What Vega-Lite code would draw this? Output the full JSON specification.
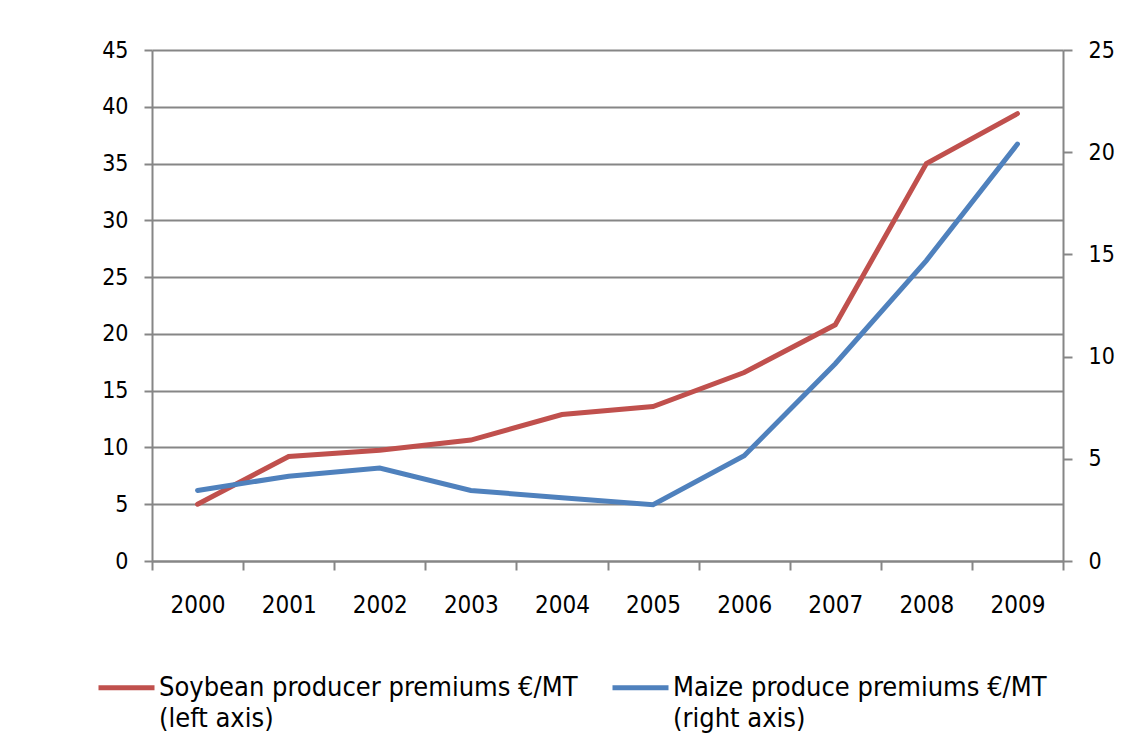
{
  "$schema": "https://vega.github.io/schema/vega-lite/v6.json",
  "width": 911,
  "height": 511,
  "autosize": {"type": "none"},
  "padding": {"left": 152, "top": 50, "right": 59, "bottom": 186},
  "background": "white",
  "data": {
    "values": [
      {"year": "2000", "soybean": 5.0, "maize": 3.45},
      {"year": "2001", "soybean": 9.2, "maize": 4.15},
      {"year": "2002", "soybean": 9.75, "maize": 4.55},
      {"year": "2003", "soybean": 10.65, "maize": 3.45},
      {"year": "2004", "soybean": 12.9, "maize": 3.1},
      {"year": "2005", "soybean": 13.6, "maize": 2.75},
      {"year": "2006", "soybean": 16.6, "maize": 5.15},
      {"year": "2007", "soybean": 20.8, "maize": 9.65},
      {"year": "2008", "soybean": 35.0, "maize": 14.7},
      {"year": "2009", "soybean": 39.4, "maize": 20.4}
    ]
  },
  "encoding": {
    "x": {
      "field": "year",
      "type": "ordinal",
      "bandPosition": 0.5,
      "scale": {"type": "band", "paddingInner": 0, "paddingOuter": 0},
      "axis": {
        "title": null,
        "labelAngle": 0,
        "tickBand": "extent",
        "tickSize": 9,
        "labelPadding": 35,
        "labelFontSize": 24,
        "labelBaseline": "middle"
      }
    }
  },
  "layer": [
    {
      "mark": {"type": "line", "strokeWidth": 5, "strokeJoin": "miter", "strokeCap": "round"},
      "encoding": {
        "y": {
          "field": "soybean",
          "type": "quantitative",
          "scale": {"domain": [0, 45], "nice": false},
          "axis": {
            "orient": "left",
            "title": null,
            "values": [0, 5, 10, 15, 20, 25, 30, 35, 40, 45],
            "grid": true,
            "tickSize": 8,
            "labelPadding": 16
          }
        },
        "color": {
          "datum": "Soybean producer premiums €/MT (left axis)",
          "type": "nominal",
          "scale": {
            "domain": ["Soybean producer premiums €/MT (left axis)", "Maize produce premiums €/MT (right axis)"],
            "range": ["#C0504D", "#4F81BD"]
          },
          "legend": {
            "title": null,
            "orient": "none",
            "direction": "horizontal",
            "legendX": -56,
            "legendY": 607,
            "padding": 0,
            "symbolType": "stroke",
            "symbolSize": 3136,
            "symbolStrokeWidth": 5,
            "labelOffset": 2,
            "labelFont": "DejaVu Sans Condensed",
            "labelFontSize": 27,
            "labelColor": "black",
            "labelLimit": 700,
            "labelBaseline": "middle",
            "labelExpr": "[slice(datum.label, 0, indexof(datum.label, ' (')), '\u00a0' + slice(datum.label, indexof(datum.label, ' (') + 1)]",
            "columnPadding": 24
          }
        }
      }
    },
    {
      "mark": {"type": "line", "strokeWidth": 5, "strokeJoin": "miter", "strokeCap": "round"},
      "encoding": {
        "y": {
          "field": "maize",
          "type": "quantitative",
          "scale": {"domain": [0, 25], "nice": false},
          "axis": {
            "orient": "right",
            "title": null,
            "values": [0, 5, 10, 15, 20, 25],
            "grid": false,
            "tickSize": 9,
            "labelPadding": 16
          }
        },
        "color": {"datum": "Maize produce premiums €/MT (right axis)", "type": "nominal"}
      }
    }
  ],
  "resolve": {"scale": {"y": "independent"}},
  "config": {
    "view": {"stroke": null},
    "style": {"guide-label": {"lineHeight": 31}},
    "axis": {
      "domainColor": "#868686",
      "domainWidth": 2,
      "tickColor": "#868686",
      "tickWidth": 2,
      "gridColor": "#868686",
      "gridWidth": 2,
      "labelFont": "DejaVu Sans Condensed",
      "labelFontSize": 23,
      "labelColor": "black"
    }
  }
}
